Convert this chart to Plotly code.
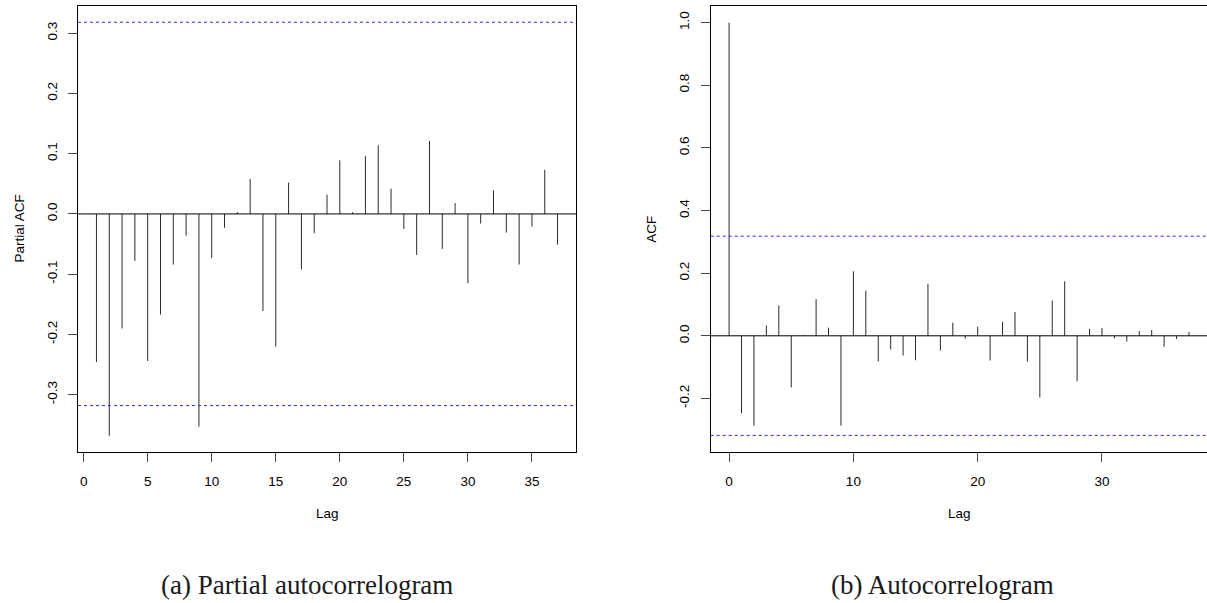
import plotly.graph_objects as go

# ---- data -------------------------------------------------------------
pacf_lags = list(range(1, 38))
pacf_vals = [
    -0.246, -0.368, -0.190, -0.078, -0.244, -0.167, -0.084, -0.036, -0.353,
    -0.073, -0.023, 0.003, 0.058, -0.161, -0.220, 0.052, -0.092, -0.032,
    0.032, 0.089, 0.003, 0.096, 0.114, 0.042, -0.025, -0.068, 0.121,
    -0.058, 0.018, -0.115, -0.016, 0.039, -0.031, -0.084, -0.021, 0.073,
    -0.051,
]

acf_lags = list(range(0, 38))
acf_vals = [
    1.000, -0.247, -0.287, 0.033, 0.097, -0.165, 0.002, 0.117, 0.026,
    -0.287, 0.206, 0.144, -0.082, -0.044, -0.063, -0.078, 0.166, -0.047,
    0.042, -0.009, 0.029, -0.079, 0.045, 0.076, -0.082, -0.197, 0.113,
    0.174, -0.145, 0.022, 0.025, -0.008, -0.018, 0.015, 0.018, -0.035,
    -0.010, 0.012,
]

conf_limit = 0.318  # 95% band for white noise

pacf_yticks = [-0.3, -0.2, -0.1, 0.0, 0.1, 0.2, 0.3]
pacf_yticktext = ["-0.3", "-0.2", "-0.1", "0.0", "0.1", "0.2", "0.3"]
pacf_xticks = [0, 5, 10, 15, 20, 25, 30, 35]
acf_yticks = [-0.2, 0.0, 0.2, 0.4, 0.6, 0.8, 1.0]
acf_yticktext = ["-0.2", "0.0", "0.2", "0.4", "0.6", "0.8", "1.0"]
acf_xticks = [0, 10, 20, 30]

captions = ["(a) Partial autocorrelogram", "(b) Autocorrelogram"]

# ---- layout constants ---------------------------------------------------
W, H = 1207, 603
SANS = "Liberation Sans, Arial, Helvetica, sans-serif"
SERIF = "Liberation Serif, Times New Roman, serif"
FS = 13.5
STEM = "#2a2a2a"
TICK = "#474747"
BLUE = "rgb(40,40,255)"


def stems(lags, vals):
    xs, ys = [], []
    for k, v in zip(lags, vals):
        xs += [k, k, None]
        ys += [0, v, None]
    return xs, ys


fig = go.Figure()

px, py = stems(pacf_lags, pacf_vals)
fig.add_trace(go.Scatter(x=px, y=py, mode="lines", xaxis="x", yaxis="y",
                         line=dict(color=STEM, width=1), hoverinfo="skip",
                         showlegend=False))
ax, ay = stems(acf_lags, acf_vals)
fig.add_trace(go.Scatter(x=ax, y=ay, mode="lines", xaxis="x2", yaxis="y2",
                         line=dict(color=STEM, width=1), hoverinfo="skip",
                         showlegend=False))

left_dom = [78 / W, 576 / W]
right_dom = [710.7 / W, 1.0]
y_dom = [1 - 452 / H, 1 - 6 / H]

axis_common = dict(
    showgrid=False, zeroline=False, showline=True, linecolor="black",
    linewidth=1, ticks="outside", ticklen=9, tickwidth=1, tickcolor=TICK,
    tickfont=dict(family=SANS, size=FS, color="black"),
)

fig.update_layout(
    width=W, height=H,
    margin=dict(l=0, r=0, t=0, b=0),
    paper_bgcolor="white", plot_bgcolor="white",
    showlegend=False,
    xaxis=dict(axis_common, domain=left_dom, anchor="y", range=[-0.44, 38.44],
               tickvals=pacf_xticks, mirror=True, ticklabelstandoff=8),
    yaxis=dict(axis_common, domain=y_dom, anchor="x", range=[-0.395, 0.345],
               tickvals=pacf_yticks, ticktext=pacf_yticktext, tickangle=-90,
               mirror=True, ticklabelstandoff=6),
    xaxis2=dict(axis_common, domain=right_dom, anchor="y2",
                range=[-1.48, 38.45], tickvals=acf_xticks, mirror=True,
                ticklabelstandoff=8),
    yaxis2=dict(axis_common, domain=y_dom, anchor="x2", range=[-0.371, 1.053],
                tickvals=acf_yticks, ticktext=acf_yticktext, tickangle=-90,
                mirror=False, ticklabelstandoff=6),
)

# zero line and confidence bands
for xr, yr in (("x", "y"), ("x2", "y2")):
    fig.add_shape(type="line", xref=f"{xr} domain", yref=yr, x0=0, x1=1,
                  y0=0, y1=0, line=dict(color="black", width=1))
    for c in (conf_limit, -conf_limit):
        fig.add_shape(type="line", xref=f"{xr} domain", yref=yr, x0=0, x1=1,
                      y0=c, y1=c, line=dict(color=BLUE, width=1,
                                            dash="3px,3px"))

mid_y = 1 - 229 / H
notes = [
    dict(text="Partial ACF", x=19.5 / W, y=mid_y, textangle=-90),
    dict(text="ACF", x=651.7 / W, y=mid_y, textangle=-90),
    dict(text="Lag", x=327 / W, y=1 - 513 / H),
    dict(text="Lag", x=959 / W, y=1 - 513 / H),
]
for n in notes:
    fig.add_annotation(xref="paper", yref="paper", showarrow=False,
                       xanchor="center", yanchor="middle",
                       font=dict(family=SANS, size=FS, color="black"), **n)

for cap, cx in zip(captions, (307, 942)):
    fig.add_annotation(text=cap, xref="paper", yref="paper", x=cx / W,
                       y=1 - 585 / H, showarrow=False, xanchor="center",
                       yanchor="middle",
                       font=dict(family=SERIF, size=27, color="#1a1a1a"))

fig.write_html("out.html")
